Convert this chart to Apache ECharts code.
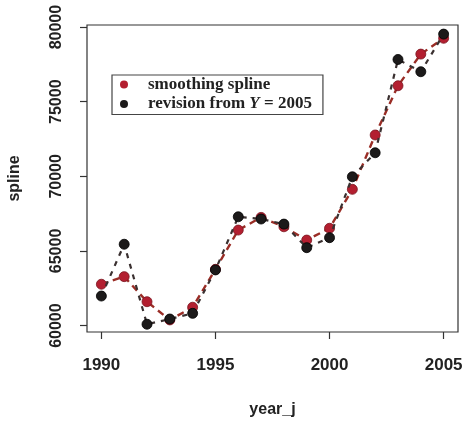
<!DOCTYPE html>
<html>
<head>
<meta charset="utf-8">
<script src="https://cdn.jsdelivr.net/npm/echarts@6/dist/echarts.min.js"></script>
<style>
html,body{margin:0;padding:0;background:#fff;}
#chart{width:463px;height:421px;}
</style>
</head>
<body>
<div id="chart"></div>
<script>
const years = [1990,1991,1992,1993,1994,1995,1996,1997,1998,1999,2000,2001,2002,2003,2004,2005];
const smoothingSpline = [62770,63280,61600,60380,61230,63770,66400,67250,66620,65730,66520,69130,72770,76070,78190,79250];
const revision = [61980,65450,60090,60440,60820,63730,67290,67140,66800,65220,65890,69970,71580,77830,77010,79530];
const xTicks = [1990,1995,2000,2005];
const yTicks = [60000,65000,70000,75000,80000];
const seriesNames = ['smoothing spline','revision from Y = 2005'];

const toPairs = (vals) => years.map((y,i)=>[y, vals[i]]);
const sansBold = {fontFamily:'Liberation Sans', fontWeight:'bold', color:'#222'};

const chart = echarts.init(document.getElementById('chart'), null, {renderer:'canvas'});
chart.setOption({
  animation:false,
  backgroundColor:'#fff',
  grid:{left:87, right:5, top:25, bottom:89, show:true, borderColor:'#333', borderWidth:1.2,
        backgroundColor:'transparent', containLabel:false, outerBoundsMode:'none'},
  xAxis:{
    type:'value', min:1989.37, max:2005.63,
    name:'year_j', nameLocation:'middle', nameGap:70,
    nameTextStyle:Object.assign({fontSize:16}, sansBold),
    axisLine:{show:false},
    splitLine:{show:false},
    axisTick:{show:true, inside:false, length:7, lineStyle:{color:'#333', width:1.2}, customValues:xTicks},
    axisLabel:Object.assign({fontSize:17, margin:25, customValues:xTicks, formatter:v=>String(v)}, sansBold)
  },
  yAxis:{
    type:'value', min:59570, max:80140,
    name:'spline', nameLocation:'middle', nameGap:64, nameRotate:90,
    nameTextStyle:Object.assign({fontSize:16}, sansBold),
    axisLine:{show:false},
    splitLine:{show:false},
    axisTick:{show:true, inside:false, length:7, lineStyle:{color:'#333', width:1.2}, customValues:yTicks},
    axisLabel:Object.assign({fontSize:16, margin:22, rotate:90, customValues:yTicks, formatter:v=>String(v)}, sansBold)
  },
  legend:{
    orient:'vertical', left:112, top:75,
    backgroundColor:'#fff', borderColor:'#444', borderWidth:1.2,
    padding:[1,11,2,8], itemGap:2.5,
    itemWidth:14, itemHeight:8, icon:'circle',
    itemStyle:{borderWidth:0},
    textStyle:{fontFamily:'Liberation Serif', fontWeight:'bold', fontSize:17, lineHeight:17, color:'#222', padding:[0,0,0,12],
      rich:{i:{fontFamily:'Liberation Serif', fontWeight:'bold', fontStyle:'italic', fontSize:17, lineHeight:17, color:'#222'}}},
    formatter: n => n.replace(' Y ', ' {i|Y} '),
    data:seriesNames
  },
  series:[
    {name:seriesNames[0], type:'line', data:toPairs(smoothingSpline),
     symbol:'circle', symbolSize:10, z:2,
     itemStyle:{color:'#b31f30', borderColor:'#7a1520', borderWidth:0.8},
     lineStyle:{color:'#9a2d26', width:2.4, type:[7,5]}},
    {name:seriesNames[1], type:'line', data:toPairs(revision),
     symbol:'circle', symbolSize:10, z:3,
     itemStyle:{color:'#1c1a1a', borderColor:'#000', borderWidth:0.8},
     lineStyle:{color:'#3a3030', width:2.2, type:[5,6]}}
  ]
});
</script>
</body>
</html>
